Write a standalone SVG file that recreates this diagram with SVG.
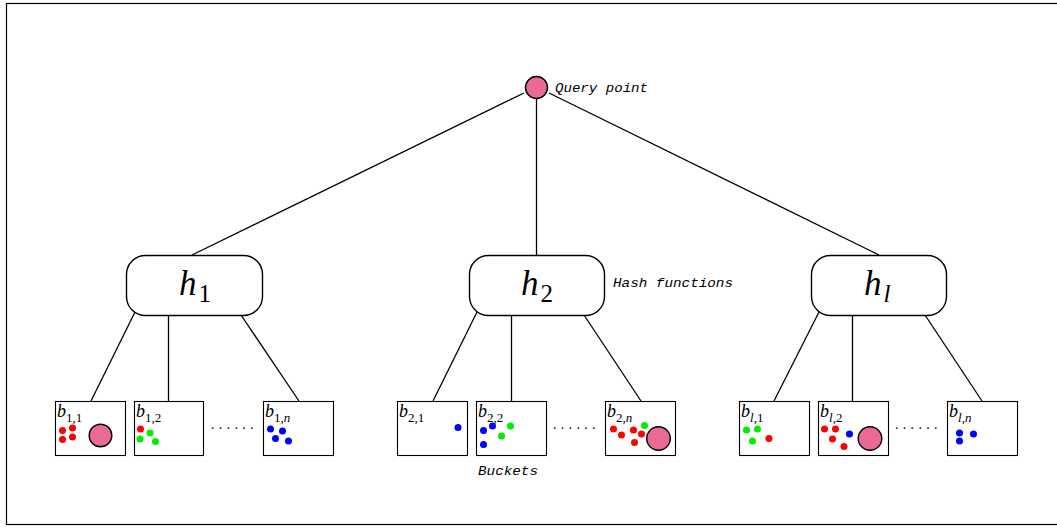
<svg xmlns="http://www.w3.org/2000/svg" width="1057" height="529" viewBox="0 0 1057 529">
  <style>
    .frame { fill: #ffffff; stroke: #000000; stroke-width: 1.2; }
    .edge { stroke: #000000; stroke-width: 1.3; fill: none; }
    .hash { fill: #ffffff; stroke: #000000; stroke-width: 1.4; }
    .bucket { fill: #ffffff; stroke: #000000; stroke-width: 1.1; }
    .query { fill: #eb6a95; stroke: #000000; stroke-width: 1.4; }
    .r { fill: #ff0000; }
    .g { fill: #00ee00; }
    .b { fill: #0000ff; }
    .mono { font-family: "Liberation Mono", "DejaVu Sans Mono", monospace; font-style: italic; font-size: 13.5px; fill: #000000; }
    .math { font-family: "Liberation Serif", "DejaVu Serif", serif; font-style: italic; fill: #000000; }
    .num { font-family: "Liberation Serif", "DejaVu Serif", serif; fill: #000000; }
    .bl { font-size: 18px; }
    .sub { font-size: 13px; }
    .ell { font-family: "Liberation Serif", serif; font-size: 14px; fill: #000000; letter-spacing: 4.3px; }
  </style>

  <rect class="frame" x="6.5" y="3.5" width="1060" height="521"/>

  <!-- connectors -->
  <g id="connectors">
    <line class="edge" x1="524" y1="93" x2="192" y2="255"/>
    <line class="edge" x1="536.5" y1="98.5" x2="536.5" y2="255"/>
    <line class="edge" x1="549" y1="93" x2="879" y2="255"/>

    <line class="edge" x1="135" y1="312" x2="91" y2="401"/>
    <line class="edge" x1="168.5" y1="315" x2="168.5" y2="401"/>
    <line class="edge" x1="241" y1="315" x2="299" y2="401"/>

    <line class="edge" x1="477" y1="312" x2="433" y2="401"/>
    <line class="edge" x1="511.5" y1="315" x2="511.5" y2="401"/>
    <line class="edge" x1="584" y1="315" x2="641" y2="401"/>

    <line class="edge" x1="819" y1="312" x2="774" y2="401"/>
    <line class="edge" x1="852.5" y1="315" x2="852.5" y2="401"/>
    <line class="edge" x1="925" y1="315" x2="982" y2="401"/>
  </g>

  <!-- query point -->
  <g id="query">
    <circle class="query" cx="536.5" cy="87.5" r="11"/>
    <text class="mono" x="555" y="91.5" textLength="93" lengthAdjust="spacingAndGlyphs">Query point</text>
  </g>

  <!-- hash functions -->
  <g id="hash1">
    <rect class="hash" x="126.5" y="255.5" width="136" height="60" rx="19" ry="19"/>
    <text class="math" x="179" y="295" font-size="35">h</text>
    <text class="num" x="198.5" y="302" font-size="25">1</text>
  </g>
  <g id="hash2">
    <rect class="hash" x="469.5" y="255.5" width="135" height="60" rx="19" ry="19"/>
    <text class="math" x="521" y="295" font-size="35">h</text>
    <text class="num" x="540.5" y="302" font-size="25">2</text>
    <text class="mono" x="613" y="286.5" textLength="120" lengthAdjust="spacingAndGlyphs">Hash functions</text>
  </g>
  <g id="hashl">
    <rect class="hash" x="811.5" y="255.5" width="135" height="60" rx="19" ry="19"/>
    <text class="math" x="864" y="295" font-size="35">h</text>
    <text class="math" x="883.5" y="302" font-size="25">l</text>
  </g>

  <!-- buckets of h1 -->
  <g id="bucket-1-1">
    <rect class="bucket" x="55.5" y="401.5" width="70" height="54"/>
    <text class="math bl" x="57" y="417">b</text>
    <text class="num sub" x="66" y="422">1,1</text>
    <circle class="r" cx="62.5" cy="430.5" r="3.5"/>
    <circle class="r" cx="72.5" cy="428" r="3.5"/>
    <circle class="r" cx="62.5" cy="439.5" r="3.5"/>
    <circle class="r" cx="72.5" cy="437" r="3.5"/>
    <circle class="query" cx="100.5" cy="435.5" r="11.3"/>
  </g>
  <g id="bucket-1-2">
    <rect class="bucket" x="134.5" y="401.5" width="69" height="54"/>
    <text class="math bl" x="136" y="417">b</text>
    <text class="num sub" x="145" y="422">1,2</text>
    <circle class="r" cx="140.5" cy="429" r="3.5"/>
    <circle class="g" cx="150" cy="433" r="3.5"/>
    <circle class="g" cx="140" cy="439" r="3.5"/>
    <circle class="g" cx="155.5" cy="441.5" r="3.5"/>
  </g>
  <text class="ell" x="211" y="429">......</text>
  <g id="bucket-1-n">
    <rect class="bucket" x="263.5" y="401.5" width="70" height="54"/>
    <text class="math bl" x="265" y="417">b</text>
    <text class="num sub" x="274" y="422">1,<tspan class="math">n</tspan></text>
    <circle class="b" cx="270.5" cy="429" r="3.5"/>
    <circle class="b" cx="282.5" cy="431" r="3.5"/>
    <circle class="b" cx="275.5" cy="438.5" r="3.5"/>
    <circle class="b" cx="288.5" cy="441" r="3.5"/>
  </g>

  <!-- buckets of h2 -->
  <g id="bucket-2-1">
    <rect class="bucket" x="397.5" y="401.5" width="70" height="54"/>
    <text class="math bl" x="399" y="417">b</text>
    <text class="num sub" x="408" y="422">2,1</text>
    <circle class="b" cx="458" cy="427.5" r="3.5"/>
  </g>
  <g id="bucket-2-2">
    <rect class="bucket" x="476.5" y="401.5" width="70" height="54"/>
    <text class="math bl" x="478" y="417">b</text>
    <text class="num sub" x="487" y="422">2,2</text>
    <circle class="b" cx="483.5" cy="430.5" r="3.5"/>
    <circle class="b" cx="492.5" cy="426" r="3.5"/>
    <circle class="g" cx="510.5" cy="426" r="3.5"/>
    <circle class="g" cx="501.5" cy="436" r="3.5"/>
    <circle class="b" cx="483.5" cy="444.5" r="3.5"/>
    <text class="mono" x="478" y="475" textLength="60" lengthAdjust="spacingAndGlyphs">Buckets</text>
  </g>
  <text class="ell" x="553" y="429">......</text>
  <g id="bucket-2-n">
    <rect class="bucket" x="605.5" y="401.5" width="70" height="54"/>
    <text class="math bl" x="607" y="417">b</text>
    <text class="num sub" x="616" y="422">2,<tspan class="math">n</tspan></text>
    <circle class="r" cx="613.5" cy="429" r="3.5"/>
    <circle class="r" cx="621.5" cy="435" r="3.5"/>
    <circle class="r" cx="633.5" cy="430" r="3.5"/>
    <circle class="g" cx="644.5" cy="425.5" r="3.5"/>
    <circle class="r" cx="641.5" cy="434" r="3.5"/>
    <circle class="r" cx="634.5" cy="442.5" r="3.5"/>
    <circle class="query" cx="658.5" cy="438.5" r="11.8"/>
  </g>

  <!-- buckets of hl -->
  <g id="bucket-l-1">
    <rect class="bucket" x="739.5" y="401.5" width="70" height="54"/>
    <text class="math bl" x="741" y="417">b</text>
    <text class="num sub" x="750" y="422"><tspan class="math">l</tspan>,1</text>
    <circle class="g" cx="746.5" cy="430" r="3.5"/>
    <circle class="g" cx="757.5" cy="429" r="3.5"/>
    <circle class="g" cx="752.5" cy="441" r="3.5"/>
    <circle class="r" cx="769" cy="438.5" r="3.5"/>
  </g>
  <g id="bucket-l-2">
    <rect class="bucket" x="818.5" y="401.5" width="70" height="54"/>
    <text class="math bl" x="820" y="417">b</text>
    <text class="num sub" x="829" y="422"><tspan class="math">l</tspan>,2</text>
    <circle class="r" cx="824.5" cy="429" r="3.5"/>
    <circle class="r" cx="835.5" cy="429" r="3.5"/>
    <circle class="r" cx="832.5" cy="439" r="3.5"/>
    <circle class="r" cx="844" cy="446.5" r="3.5"/>
    <circle class="b" cx="849.5" cy="434" r="3.5"/>
    <circle class="query" cx="870" cy="438.5" r="11.8"/>
  </g>
  <text class="ell" x="895" y="429">......</text>
  <g id="bucket-l-n">
    <rect class="bucket" x="947.5" y="401.5" width="70" height="54"/>
    <text class="math bl" x="949" y="417">b</text>
    <text class="num sub" x="958" y="422"><tspan class="math">l</tspan>,<tspan class="math">n</tspan></text>
    <circle class="b" cx="959.5" cy="433" r="3.5"/>
    <circle class="b" cx="973.5" cy="434" r="3.5"/>
    <circle class="b" cx="959.5" cy="441" r="3.5"/>
  </g>
</svg>
